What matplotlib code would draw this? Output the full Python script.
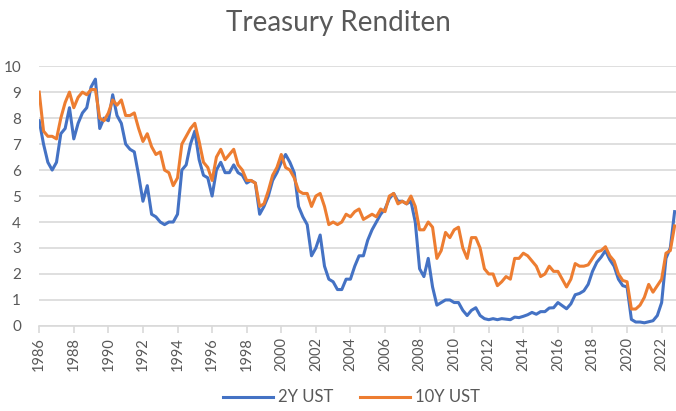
import numpy as np
import matplotlib
matplotlib.use("Agg")
import matplotlib.pyplot as plt

plt.rcParams['font.family'] = ['Lato', 'DejaVu Sans']

# quarterly readings (Jan, Apr, Jul, Oct) from 1986 to 2022
start_year = 1986
rate_2y = [
    7.9, 7.0, 6.3, 6.0,      # 1986
    6.3, 7.4, 7.6, 8.4,      # 1987
    7.2, 7.8, 8.2, 8.4,      # 1988
    9.2, 9.5, 7.6, 8.0,      # 1989
    7.9, 8.9, 8.1, 7.8,      # 1990
    7.0, 6.8, 6.7, 5.8,      # 1991
    4.8, 5.4, 4.3, 4.2,      # 1992
    4.0, 3.9, 4.0, 4.0,      # 1993
    4.3, 6.0, 6.2, 7.0,      # 1994
    7.5, 6.4, 5.8, 5.7,      # 1995
    5.0, 6.0, 6.3, 5.9,      # 1996
    5.9, 6.2, 5.9, 5.8,      # 1997
    5.5, 5.6, 5.5, 4.3,      # 1998
    4.6, 5.0, 5.6, 5.9,      # 1999
    6.3, 6.6, 6.3, 5.9,      # 2000
    4.6, 4.2, 3.9, 2.7,      # 2001
    3.0, 3.5, 2.3, 1.8,      # 2002
    1.7, 1.4, 1.4, 1.8,      # 2003
    1.8, 2.3, 2.7, 2.7,      # 2004
    3.3, 3.7, 4.0, 4.3,      # 2005
    4.5, 4.9, 5.1, 4.8,      # 2006
    4.8, 4.7, 4.8, 4.0,      # 2007
    2.2, 1.9, 2.6, 1.5,      # 2008
    0.8, 0.9, 1.0, 1.0,      # 2009
    0.9, 0.9, 0.6, 0.4,      # 2010
    0.6, 0.7, 0.4, 0.28,     # 2011
    0.24, 0.28, 0.24, 0.28,  # 2012
    0.26, 0.24, 0.34, 0.32,  # 2013
    0.37, 0.43, 0.52, 0.45,  # 2014
    0.55, 0.55, 0.69, 0.7,   # 2015
    0.9, 0.78, 0.66, 0.85,   # 2016
    1.2, 1.25, 1.35, 1.6,    # 2017
    2.1, 2.45, 2.65, 2.9,    # 2018
    2.55, 2.3, 1.8, 1.55,    # 2019
    1.5, 0.25, 0.15, 0.15,   # 2020
    0.12, 0.16, 0.2, 0.4,    # 2021
    0.9, 2.6, 3.0, 4.4,      # 2022
]
rate_10y = [
    9.0, 7.5, 7.3, 7.3,      # 1986
    7.2, 8.0, 8.6, 9.0,      # 1987
    8.4, 8.8, 9.0, 8.9,      # 1988
    9.1, 9.1, 8.0, 7.9,      # 1989
    8.2, 8.7, 8.5, 8.7,      # 1990
    8.1, 8.1, 8.2, 7.6,      # 1991
    7.1, 7.4, 6.9, 6.6,      # 1992
    6.7, 6.0, 5.9, 5.4,      # 1993
    5.7, 7.0, 7.3, 7.6,      # 1994
    7.8, 7.1, 6.3, 6.1,      # 1995
    5.6, 6.5, 6.8, 6.4,      # 1996
    6.6, 6.8, 6.2, 6.0,      # 1997
    5.6, 5.6, 5.5, 4.6,      # 1998
    4.7, 5.2, 5.8, 6.1,      # 1999
    6.6, 6.1, 6.0, 5.7,      # 2000
    5.2, 5.1, 5.1, 4.6,      # 2001
    5.0, 5.1, 4.6, 3.9,      # 2002
    4.0, 3.9, 4.0, 4.3,      # 2003
    4.2, 4.4, 4.5, 4.1,      # 2004
    4.2, 4.3, 4.2, 4.5,      # 2005
    4.4, 5.0, 5.1, 4.7,      # 2006
    4.8, 4.7, 5.0, 4.6,      # 2007
    3.7, 3.7, 4.0, 3.8,      # 2008
    2.6, 2.9, 3.6, 3.4,      # 2009
    3.7, 3.8, 3.0, 2.6,      # 2010
    3.4, 3.4, 3.0, 2.2,      # 2011
    2.0, 2.0, 1.55, 1.7,     # 2012
    1.9, 1.8, 2.6, 2.6,      # 2013
    2.8, 2.7, 2.5, 2.3,      # 2014
    1.9, 2.0, 2.3, 2.1,      # 2015
    2.1, 1.8, 1.5, 1.8,      # 2016
    2.4, 2.3, 2.3, 2.35,     # 2017
    2.6, 2.85, 2.9, 3.05,    # 2018
    2.7, 2.5, 2.0, 1.75,     # 2019
    1.7, 0.65, 0.65, 0.8,    # 2020
    1.1, 1.6, 1.3, 1.55,     # 2021
    1.8, 2.8, 2.9, 3.85,     # 2022
]
year_ticks = list(range(1986, 2023, 2))

t = start_year + np.arange(len(rate_2y)) / 4.0

grey = '#595959'
fig = plt.figure(figsize=(6.76, 4.11), dpi=100)
ax = fig.add_axes([0.058, 0.207, 0.942, 0.632])

ax.plot(t, rate_2y, color='#4472C4', lw=2.2, label='2Y UST')
ax.plot(t, rate_10y, color='#ED7D31', lw=2.2, label='10Y UST')

ax.set_xlim(start_year, t[-1] + 0.08)
ax.set_ylim(0, 10)
ax.set_yticks(range(0, 11))
ax.set_xticks(year_ticks)
ax.set_xticklabels([str(y) for y in year_ticks], rotation=90)

ax.grid(axis='y', color='#d9d9d9', lw=1.2)
ax.set_axisbelow(True)
for s in ['top', 'right', 'left']:
    ax.spines[s].set_visible(False)
ax.spines['bottom'].set_color('#d9d9d9')
ax.spines['bottom'].set_linewidth(1.2)
ax.tick_params(axis='y', length=0, pad=13, labelsize=11, labelcolor=grey)
ax.tick_params(axis='x', length=5, color='#d9d9d9', width=1.2, pad=3,
               labelsize=10.5, labelcolor=grey)

fig.text(0.5, 0.945, 'Treasury Renditen', ha='center', va='center',
         fontsize=20, color=grey)
fig.legend(loc='center', bbox_to_anchor=(0.52, 0.033), ncol=2, frameon=False,
           fontsize=12, labelcolor=grey, handlelength=3.0, columnspacing=1.6,
           handletextpad=0.3)

fig.savefig('out.png', dpi=100)
